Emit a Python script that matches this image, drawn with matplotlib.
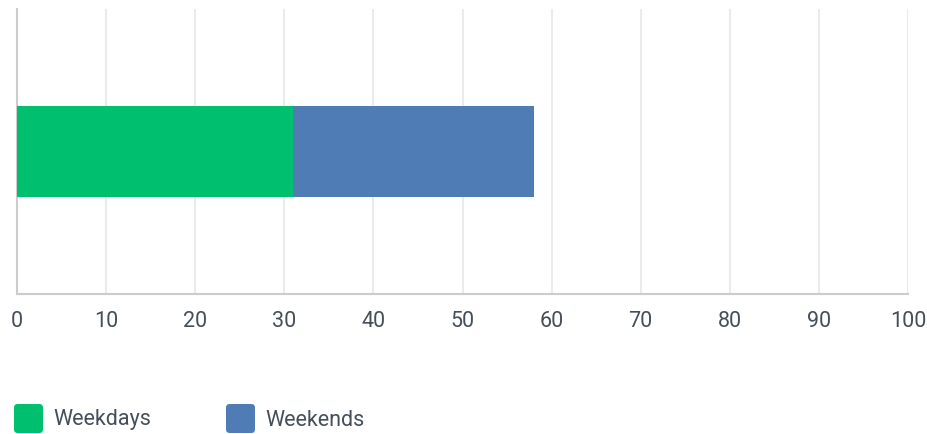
import matplotlib.pyplot as plt
import matplotlib as mpl
from matplotlib.patches import FancyBboxPatch

mpl.rcParams['font.family'] = ['Roboto', 'DejaVu Sans']
mpl.rcParams['font.size'] = 12

# data
categories = ['']
series_names = ['Weekdays', 'Weekends']
weekdays = [31]
weekends = [27]
colors = ['#00bf6f', '#507cb6']
x_ticks = [0, 10, 20, 30, 40, 50, 60, 70, 80, 90, 100]
text_color = '#454f59'

fig = plt.figure(figsize=(9.27, 4.34), dpi=100)
ax = fig.add_axes([17 / 927, 140 / 434, 891 / 927, 285 / 434])

ax.barh(categories, weekdays, height=0.32, color=colors[0], zorder=3)
ax.barh(categories, weekends, left=weekdays, height=0.32, color=colors[1], zorder=3)

ax.set_xlim(0, 100)
ax.set_ylim(-0.5, 0.5)
ax.set_xticks(x_ticks)
ax.set_xticklabels([str(t) for t in x_ticks], color=text_color, fontweight='normal')
ax.tick_params(axis='x', length=0, pad=12, labelsize=15.5)
ax.set_yticks([])
ax.grid(axis='x', color='#ebebeb', linewidth=1.5, zorder=0)

for s in ['top', 'right']:
    ax.spines[s].set_visible(False)
ax.spines['left'].set_color('#cccccc')
ax.spines['left'].set_linewidth(1.5)
ax.spines['bottom'].set_color('#cccccc')
ax.spines['bottom'].set_linewidth(1.5)

# legend drawn by hand: rounded squares + labels
legend_x = [14, 226]
for name, col, lx in zip(series_names, colors, legend_x):
    box = FancyBboxPatch((lx / 927, (434 - 433) / 434), 29 / 927, 29 / 434,
                         boxstyle='round,pad=0,rounding_size=0.004',
                         transform=fig.transFigure, facecolor=col, edgecolor='none',
                         mutation_aspect=927 / 434)
    fig.patches.append(box)
    fig.text((lx + 39) / 927, (434 - 420) / 434, name, color=text_color,
             fontsize=15.5, fontweight='normal', va='center', ha='left')

plt.savefig('out.png', dpi=100)
